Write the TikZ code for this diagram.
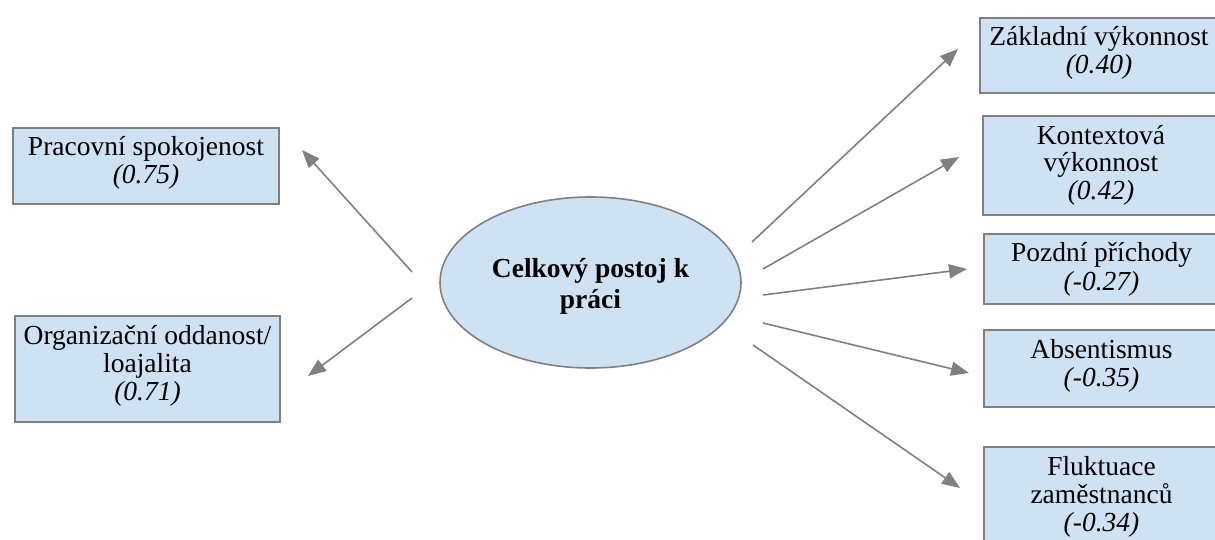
\documentclass[tikz,border=0pt]{standalone}
\usepackage{fontspec}
\setmainfont{Liberation Serif}
\usetikzlibrary{arrows.meta,shapes.geometric}

\definecolor{boxfill}{RGB}{207,226,243}
\definecolor{edgegray}{RGB}{128,128,128}

% text of a box: fixed size, lines hung from the top edge
\newcommand\boxlines[3]{\parbox[c][#2][t]{#1}{\centering\fontsize{27.5}{28}\selectfont\rule{0pt}{28pt}#3}}

\tikzset{
  factor/.style={draw=edgegray, line width=2pt, fill=boxfill, rectangle,
    inner sep=0pt, anchor=north west},
  attitude/.style={draw=edgegray, line width=1.6pt, fill=boxfill, ellipse,
    minimum width=301pt, minimum height=171pt, inner sep=0pt, align=center,
    font=\fontsize{27.5}{31}\selectfont\bfseries},
  link/.style={draw=edgegray, line width=1.6pt,
    -{Triangle[length=18pt,width=14pt]}, color=edgegray}
}

\begin{document}
\begin{tikzpicture}[x=1pt,y=-1pt]
\useasboundingbox (0,0) rectangle (1215,540);
\clip (0,0) rectangle (1215,540);

% centre
\node[attitude] (ell) at (590.5,282.5) {\rule{0pt}{27pt}Celkový postoj k\\práci};

% left boxes
\node[factor] (ps) at (12,127) {\boxlines{266pt}{76pt}{Pracovní spokojenost\\\textit{(0.75)}}};
\node[factor] (oo) at (14,315) {\boxlines{265pt}{106pt}{Organizační oddanost/\\loajalita\\\textit{(0.71)}}};

% right boxes
\node[factor] (zv) at (979,17) {\boxlines{238pt}{75pt}{Základní výkonnost\\\textit{(0.40)}}};
\node[factor] (kv) at (982,115) {\boxlines{236pt}{99pt}{Kontextová\\výkonnost\\\textit{(0.42)}}};
\node[factor] (pp) at (983,233) {\boxlines{235pt}{70pt}{Pozdní příchody\\\textit{(-0.27)}}};
\node[factor] (ab) at (983,329) {\boxlines{235pt}{77pt}{Absentismus\\\textit{(-0.35)}}};
\node[factor] (fz) at (983,446) {\boxlines{235pt}{110pt}{Fluktuace\\zaměstnanců\\\textit{(-0.34)}}};

% arrow ends beside the ellipse and the boxes
\coordinate (ell-l1) at (412,272);
\coordinate (ell-l2) at (412,298);
\coordinate (ell-r1) at (752,242);
\coordinate (ell-r2) at (763,269);
\coordinate (ell-r3) at (763,295);
\coordinate (ell-r4) at (763,323);
\coordinate (ell-r5) at (753,345);

\coordinate (ps-in) at (302,150);
\coordinate (oo-in) at (308,376);
\coordinate (zv-in) at (958,49);
\coordinate (kv-in) at (959,157);
\coordinate (pp-in) at (967,269);
\coordinate (ab-in) at (969,373);
\coordinate (fz-in) at (960,488);

\draw[link] (ell-l1) -- (ps-in);
\draw[link] (ell-l2) -- (oo-in);
\draw[link] (ell-r1) -- (zv-in);
\draw[link] (ell-r2) -- (kv-in);
\draw[link] (ell-r3) -- (pp-in);
\draw[link] (ell-r4) -- (ab-in);
\draw[link] (ell-r5) -- (fz-in);
\end{tikzpicture}
\end{document}
